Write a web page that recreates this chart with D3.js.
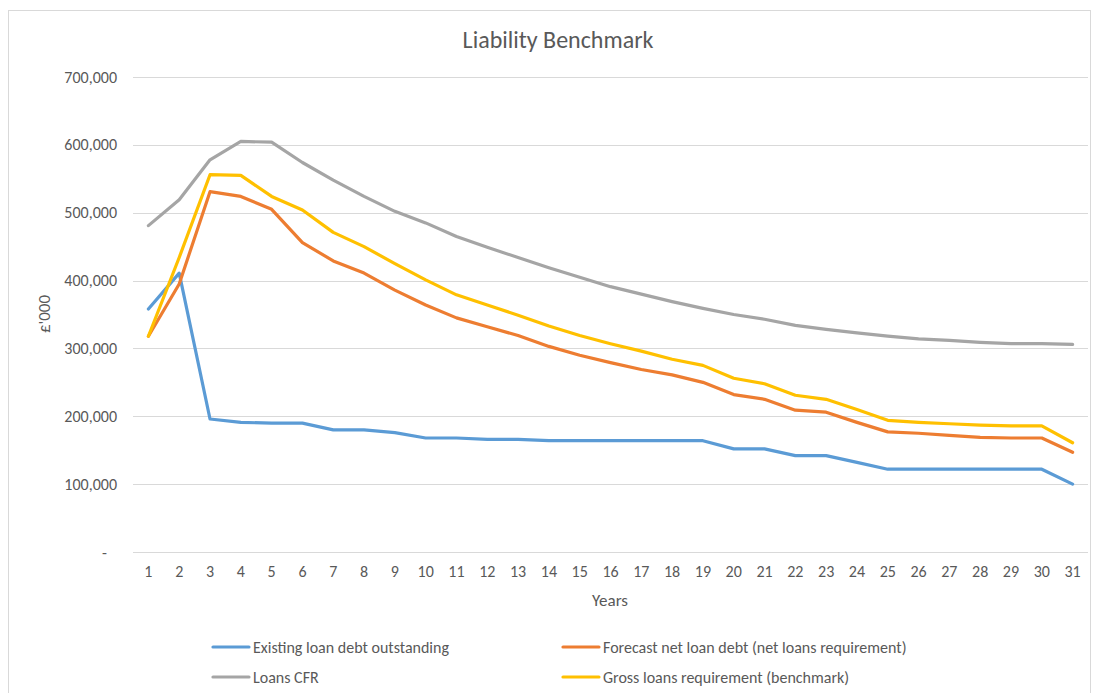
<!DOCTYPE html>
<html>
<head>
<meta charset="utf-8">
<script src="https://cdn.jsdelivr.net/npm/d3@7"></script>
<style>
  html, body { margin: 0; padding: 0; background: #fff; }
  svg { display: block; }
  text { font-family: Carlito, Calibri, Lato, "Open Sans", sans-serif; fill: #595959; }
</style>
</head>
<body>
<svg id="chart" width="1094" height="693"></svg>
<script>
const years = d3.range(1, 32);
const yTicks = [0, 100000, 200000, 300000, 400000, 500000, 600000, 700000];

const existingDebt = [358000, 411000, 196000, 191000, 190000, 190000, 180000, 180000, 176000, 168000,
  168000, 166000, 166000, 164000, 164000, 164000, 164000, 164000, 164000, 152000,
  152000, 142000, 142000, 132000, 122000, 122000, 122000, 122000, 122000, 122000, 100000];
const forecastNet = [318000, 395000, 531000, 524000, 505000, 456000, 429000, 411000, 386000, 364000,
  345000, 332000, 319000, 303000, 290000, 279000, 269000, 261000, 250000, 232000,
  225000, 209000, 206000, 191000, 177000, 175000, 172000, 169000, 168000, 168000, 147000];
const loansCFR = [481000, 519000, 578000, 605000, 604000, 574000, 548000, 524000, 502000, 485000,
  465000, 449000, 434000, 419000, 405000, 391000, 380000, 369000, 359000, 350000,
  343000, 334000, 328000, 323000, 318000, 314000, 312000, 309000, 307000, 307000, 306000];
const grossReq = [318000, 434000, 556000, 555000, 524000, 504000, 471000, 450000, 425000, 401000,
  379000, 364000, 349000, 333000, 319000, 307000, 296000, 284000, 275000, 256000,
  248000, 231000, 225000, 210000, 194000, 191000, 189000, 187000, 186000, 186000, 161000];

const seriesNames = ["Existing loan debt outstanding", "Forecast net loan debt (net loans requirement)",
  "Loans CFR", "Gross loans requirement (benchmark)"];
const seriesColors = ["#5B9BD5", "#ED7D31", "#A5A5A5", "#FFC000"];
const seriesValues = [existingDebt, forecastNet, loansCFR, grossReq];

const svg = d3.select("#chart");

// outer border
svg.append("rect").attr("x", 8.5).attr("y", 10.5).attr("width", 1082).attr("height", 700)
  .attr("fill", "none").attr("stroke", "#D9D9D9").attr("stroke-width", 1);

const plot = { left: 133, right: 1088, top: 77, bottom: 552 };

const x = d3.scaleBand().domain(years).range([plot.left, plot.right]).padding(0);
const xc = d => x(d) + x.bandwidth() / 2;
const y = d3.scaleLinear().domain([0, 700000]).range([plot.bottom, plot.top]);

// title
svg.append("text").attr("x", 558).attr("y", 48).attr("text-anchor", "middle")
  .style("font-size", "24px").text("Liability Benchmark");

// gridlines
svg.append("g").selectAll("line").data(yTicks).join("line")
  .attr("x1", plot.left).attr("x2", plot.right)
  .attr("y1", d => Math.round(y(d)) + 0.5).attr("y2", d => Math.round(y(d)) + 0.5)
  .attr("stroke", "#D9D9D9").attr("stroke-width", 1);

// y axis labels
const yAxis = d3.axisLeft(y).tickValues(yTicks).tickSize(0).tickPadding(0)
  .tickFormat(d => d === 0 ? "-" : d3.format(",")(d));
const gy = svg.append("g").attr("transform", "translate(117,0)").call(yAxis);
gy.select(".domain").remove();
gy.selectAll("text").style("font-size", "16px").attr("fill", "#595959")
  .attr("font-family", null);
gy.selectAll(".tick").filter(d => d === 0).select("text").attr("x", -10);

// x axis labels
const xAxis = d3.axisBottom(x).tickSize(0).tickPadding(14);
const gx = svg.append("g").attr("transform", `translate(0,${plot.bottom})`).call(xAxis);
gx.select(".domain").remove();
gx.selectAll("text").style("font-size", "16px").attr("fill", "#595959")
  .attr("font-family", null);

// axis titles
svg.append("text").attr("x", 610).attr("y", 606).attr("text-anchor", "middle")
  .style("font-size", "17px").text("Years");
svg.append("text").attr("transform", "translate(50,314) rotate(-90)").attr("text-anchor", "middle")
  .style("font-size", "17px").text("£'000");

// lines
const line = d3.line().x((d, i) => xc(years[i])).y(d => y(d));
svg.append("g").selectAll("path").data(seriesValues).join("path")
  .attr("d", d => line(d))
  .attr("fill", "none")
  .attr("stroke", (d, i) => seriesColors[i])
  .attr("stroke-width", 3.2)
  .attr("stroke-linejoin", "round")
  .attr("stroke-linecap", "round");

// legend
const legendPos = [[213, 647], [563, 647], [213, 677], [563, 677]];
const lg = svg.append("g").selectAll("g").data(seriesNames).join("g")
  .attr("transform", (d, i) => `translate(${legendPos[i][0]},${legendPos[i][1]})`);
lg.append("line").attr("x1", 0).attr("x2", 36).attr("y1", 0).attr("y2", 0)
  .attr("stroke", (d, i) => seriesColors[i]).attr("stroke-width", 3.2).attr("stroke-linecap", "round");
lg.append("text").attr("x", 40).attr("y", 0).attr("dy", "0.35em")
  .style("font-size", "16px").text(d => d);
</script>
</body>
</html>
